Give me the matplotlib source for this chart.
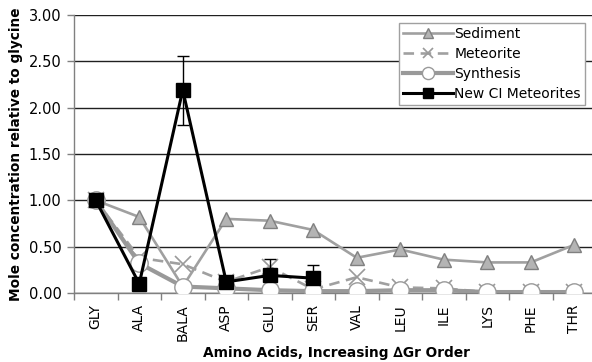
import numpy as np
import matplotlib
matplotlib.use("Agg")
import matplotlib.pyplot as plt
from matplotlib.ticker import FixedLocator, FormatStrFormatter

# amino acids in order of increasing delta Gr
amino_acids = ["GLY", "ALA", "BALA", "ASP", "GLU", "SER",
               "VAL", "LEU", "ILE", "LYS", "PHE", "THR"]

sediment = [1.00, 0.82, 0.07, 0.80, 0.78, 0.68, 0.38, 0.47, 0.36, 0.33, 0.33, 0.52]
meteorite = [1.00, 0.38, 0.31, 0.12, 0.28, 0.04, 0.17, 0.06, 0.05, 0.01, 0.01, 0.01]
synthesis = [1.00, 0.32, 0.07, 0.05, 0.03, 0.02, 0.02, 0.03, 0.03, 0.01, 0.01, 0.01]

# new CI meteorites only cover the first six amino acids
new_ci = [1.00, 0.10, 2.19, 0.12, 0.19, 0.16]
new_ci_err_lo = [0.00, 0.00, 0.38, 0.00, 0.00, 0.00]
new_ci_err_hi = [0.00, 0.00, 0.37, 0.00, 0.18, 0.14]

plt.rcParams["font.family"] = "DejaVu Sans"

fig = plt.figure(figsize=(5.92, 3.62), dpi=100)
ax = fig.add_axes([74 / 592, 1 - 293 / 362, 522 / 592, 278 / 362])

x = np.arange(len(amino_acids))
xn = np.arange(len(new_ci))

ax.plot(x, sediment, color="#a0a0a0", lw=1.9, marker="^", ms=10,
        mfc="#b4b4b4", mec="#808080", mew=1.0, label="Sediment", zorder=3)
ax.plot(x, meteorite, color="#a0a0a0", lw=1.9, ls=(0, (4, 2.5)), marker="x", ms=11,
        mec="#9a9a9a", mew=1.2, label="Meteorite", zorder=2)
ax.plot(x, synthesis, color="#999999", lw=3.0, marker="o", ms=12.5,
        mfc="white", mec="#999999", mew=1.0, label="Synthesis", zorder=4)
ax.errorbar(xn, new_ci, yerr=[new_ci_err_lo, new_ci_err_hi], fmt="none", ecolor="black",
            elinewidth=1.0, capsize=4, capthick=1.0, zorder=5)
ax.plot(xn, new_ci, color="black", lw=2.2, marker="s", ms=10,
        mfc="black", mec="black", label="New CI Meteorites", zorder=6)

ax.set_xlim(-0.5, len(amino_acids) - 0.5)
ax.set_ylim(0, 3.0)

ax.yaxis.set_major_locator(FixedLocator(np.arange(0, 3.01, 0.5)))
ax.yaxis.set_major_formatter(FormatStrFormatter("%.2f"))
ax.set_xticks(x)
ax.set_xticklabels(amino_acids, rotation=90)
ax.xaxis.set_minor_locator(FixedLocator(np.arange(-0.5, len(amino_acids), 1.0)))

ax.tick_params(axis="x", which="major", length=0, labelsize=10, pad=8)
ax.tick_params(axis="x", which="minor", length=5, color="#808080", width=1)
ax.tick_params(axis="y", length=5, color="#808080", width=1, labelsize=10.5, pad=4)

ax.grid(axis="y", color="#202020", lw=1.0)
ax.set_axisbelow(True)
for s in ("top", "right"):
    ax.spines[s].set_visible(False)
for s in ("left", "bottom"):
    ax.spines[s].set_color("#808080")
    ax.spines[s].set_linewidth(1.0)

ax.set_ylabel("Mole concentration relative to glycine", fontsize=9.8, fontweight="bold", labelpad=4)
ax.set_xlabel("Amino Acids, Increasing \u2206Gr Order", fontsize=9.9, fontweight="bold")
ax.xaxis.set_label_coords((336 - 74) / 522, -(346 - 293) / 278)

leg = fig.legend(loc="upper right", bbox_to_anchor=(585 / 592, 1 - 23 / 362),
                 fontsize=10, frameon=True, fancybox=False, borderaxespad=0,
                 handlelength=3.6, handletextpad=0.1, labelspacing=0.42,
                 borderpad=0.3, markerscale=0.7, edgecolor="#a0a0a0", framealpha=1)
leg.get_frame().set_linewidth(1.0)

fig.savefig("out.png", dpi=100)
